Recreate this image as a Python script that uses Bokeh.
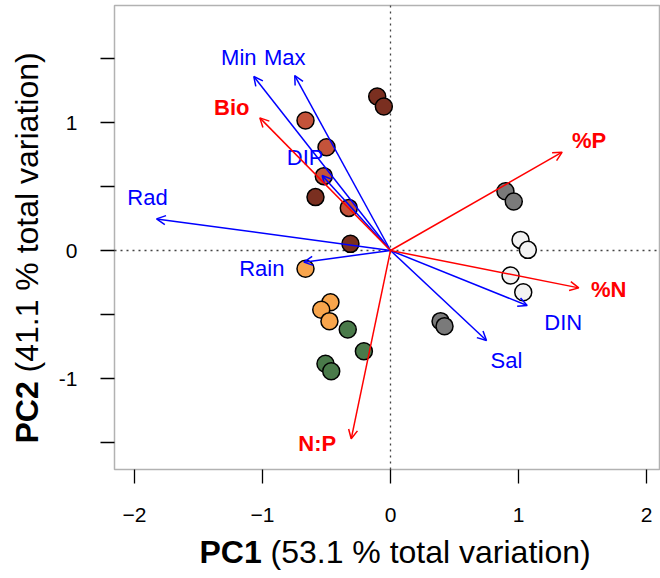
import math
from bokeh.plotting import figure
from bokeh.models import (ColumnDataSource, Arrow, OpenHead, FixedTicker,
                          Label, Range1d, BoxAnnotation)
from bokeh.core.properties import value
from bokeh.embed import file_html
from bokeh.resources import INLINE

# ---- data ----
groups = ["A", "A", "A", "A", "B", "B", "B", "B", "C", "C", "C", "C",
          "D", "D", "D", "D", "E", "E", "E", "E", "F", "F", "F", "F"]
pc1 = [-0.104, -0.052, -0.586, -0.313,
       -0.664, -0.500, -0.521, -0.326,
       -0.664, -0.469, -0.541, -0.477,
       -0.334, -0.208, -0.508, -0.463,
       0.898, 0.963, 0.391, 0.422,
       1.016, 1.073, 0.938, 1.037]
pc2 = [1.203, 1.125, 0.417, 0.052,
       1.016, 0.807, 0.581, 0.333,
       -0.143, -0.404, -0.463, -0.552,
       -0.617, -0.787, -0.885, -0.943,
       0.463, 0.383, -0.552, -0.591,
       0.083, 0.005, -0.195, -0.326]

env_vars = ["Min", "Max", "DIP", "Rad", "Rain", "DIN", "Sal"]
env_pc1 = [-1.068, -0.748, -0.534, -1.828, -0.677, 1.068, 0.750]
env_pc2 = [1.359, 1.367, 0.586, 0.247, -0.091, -0.430, -0.703]

bio_vars = ["Bio", "%P", "%N", "N:P"]
bio_pc1 = [-1.021, 1.341, 1.471, -0.307]
bio_pc2 = [1.036, 0.768, -0.292, -1.471]

x_ticks = [-2, -1, 0, 1, 2]
x_tick_labels = ["\u22122", "\u22121", "0", "1", "2"]
y_ticks = [-1.5, -1, -0.5, 0, 0.5, 1, 1.5]
y_tick_labels = ["", "-1", "", "0", "", "1", ""]

x_title_bold = "PC1"
x_title_rest = "(53.1 % total variation)"
y_title_bold = "PC2"
y_title_rest = "(41.1 % total variation)"

# ---- styles / layout (pixel layout of the picture) ----
W, H = 660, 578
PX = 128.0            # pixels per data unit
X0, Y0 = 390, 250     # pixel position of the origin
BOX_L, BOX_R, BOX_T, BOX_B = 114, 659, 5, 469   # plot box in pixels


def px_x(px):
    return (px - X0) / PX


def px_y(py):
    return (Y0 - py) / PX


group_colors = {"A": "#7A2F20", "B": "#C4533A", "C": "#F8A54C",
                "D": "#4A7A4A", "E": "#7A7A7A", "F": "#F2F2F2"}
env_offsets = [(-15, -19), (-10, -18), (-17, -18), (-9, -21), (-42, 6), (36, 17), (20, 20)]
bio_offsets = [(-28, -10), (27, -12), (30, 2), (-34, 5)]
FONT = "Liberation Sans"

p = figure(width=W, height=H, output_backend="svg", toolbar_location=None,
           x_range=Range1d(px_x(0), px_x(W)), y_range=Range1d(px_y(H), px_y(0)),
           min_border=0)
p.grid.visible = False
p.background_fill_color = "white"
p.border_fill_color = "white"
p.outline_line_color = None

# plot box
p.add_layout(BoxAnnotation(left=px_x(BOX_L), right=px_x(BOX_R), top=px_y(BOX_T),
                           bottom=px_y(BOX_B), fill_alpha=0, line_color="black",
                           line_width=1.5, level="underlay"))

# axes fixed at the box edges
p.xaxis.fixed_location = px_y(BOX_B)
p.yaxis.fixed_location = px_x(BOX_L)
for ax, ticks, labels in ((p.xaxis[0], x_ticks, x_tick_labels),
                          (p.yaxis[0], y_ticks, y_tick_labels)):
    ax.ticker = FixedTicker(ticks=ticks)
    ax.major_label_overrides = {t: l for t, l in zip(ticks, labels)}
    ax.axis_line_color = None
    ax.minor_tick_line_color = None
    ax.major_tick_in = 0
    ax.major_tick_out = 14
    ax.major_tick_line_width = 1.3
    ax.major_tick_line_color = "black"
    ax.major_label_text_font = FONT
    ax.major_label_text_font_size = "21px"
    ax.major_label_text_color = "black"
p.xaxis.major_label_standoff = 24
p.yaxis.major_label_standoff = 23
p.yaxis.major_label_orientation = "horizontal"

# dotted zero lines across the box
p.segment(x0=[px_x(BOX_L), 0], y0=[0, px_y(BOX_B)], x1=[px_x(BOX_R), 0],
          y1=[0, px_y(BOX_T)], line_color="#444444", line_dash="2 4", line_width=1.3)

# points
src = ColumnDataSource(dict(x=pc1, y=pc2, c=[group_colors[g] for g in groups]))
p.scatter("x", "y", source=src, size=17, fill_color="c", line_color="black",
          line_width=1.5)


# arrows and labels
def add_arrows(names, xs, ys, offs, color, style):
    s = ColumnDataSource(dict(x0=[0] * len(xs), y0=[0] * len(xs), x1=xs, y1=ys))
    p.add_layout(Arrow(source=s, x_start="x0", y_start="y0", x_end="x1", y_end="y1",
                       line_color=color, line_width=1.5,
                       end=OpenHead(size=9, line_color=color, line_width=1.5)))
    lx = [x + o[0] / PX for x, o in zip(xs, offs)]
    ly = [y - o[1] / PX for y, o in zip(ys, offs)]
    p.text(x=lx, y=ly, text=names, text_font=value(FONT), text_font_size=value("22px"),
           text_font_style=style, text_color=color, text_align="center",
           text_baseline="middle")


add_arrows(env_vars, env_pc1, env_pc2, env_offsets, "#0000FF", "normal")
add_arrows(bio_vars, bio_pc1, bio_pc2, bio_offsets, "#FF0000", "bold")

# axis titles: bold part + regular part
BOLD_W, SPACE_W = 62, 9
X_TITLE_Y = 551     # pixel anchor row of the x title
Y_TITLE_X = 26      # pixel anchor column of the y title
common = dict(text_font=FONT, text_font_size="32px", text_align="left",
              text_baseline="alphabetic", text_color="black")
p.add_layout(Label(x=px_x(199), y=px_y(X_TITLE_Y), text=x_title_bold,
                   text_font_style="bold", **common))
p.add_layout(Label(x=px_x(199 + BOLD_W + SPACE_W), y=px_y(X_TITLE_Y), text=x_title_rest,
                   **common))
p.add_layout(Label(x=px_x(Y_TITLE_X), y=px_y(443), text=y_title_bold, angle=math.pi / 2,
                   text_font_style="bold", **common))
p.add_layout(Label(x=px_x(Y_TITLE_X), y=px_y(443 - BOLD_W - SPACE_W), text=y_title_rest,
                   angle=math.pi / 2, **common))

open("out.html", "w").write(file_html(p, INLINE))
